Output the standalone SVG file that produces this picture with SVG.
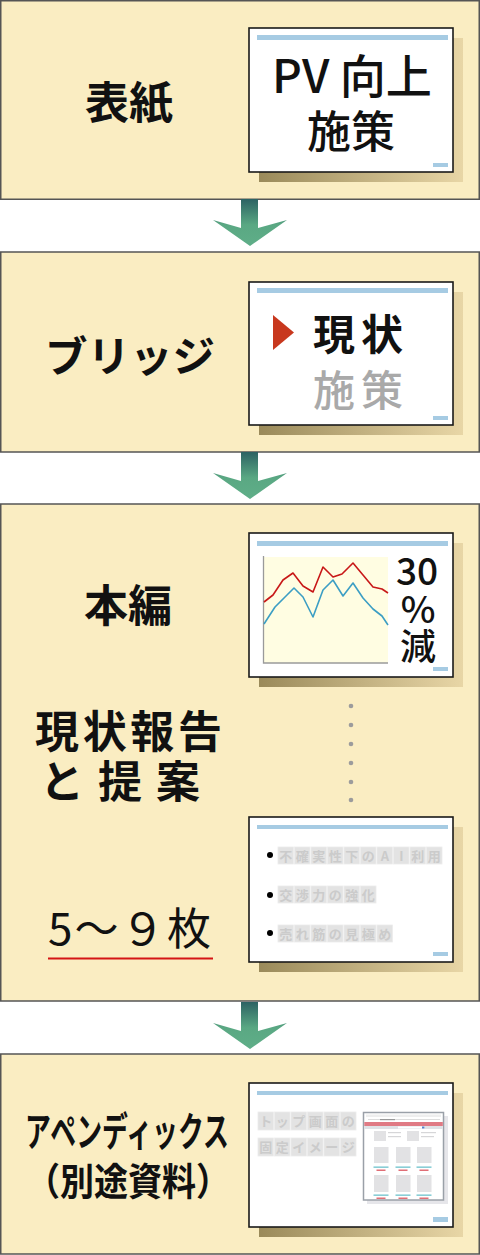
<svg xmlns="http://www.w3.org/2000/svg" width="480" height="1255" viewBox="0 0 480 1255">
<defs>
<linearGradient id="arrowGrad" x1="0" y1="0" x2="0" y2="1">
<stop offset="0" stop-color="#2c6263"/>
<stop offset="0.55" stop-color="#5aa883"/>
<stop offset="1" stop-color="#5fae88"/>
</linearGradient>
<linearGradient id="shadowGrad" x1="0" y1="0" x2="1" y2="0">
<stop offset="0" stop-color="#9a8a5a"/>
<stop offset="1" stop-color="#e8d6a6"/>
</linearGradient>
<path id="arrow" d="M241,199 L258,199 L258,228 L287,220 L250,246 L213,220 L241,228 Z" fill="url(#arrowGrad)"/>
</defs>
<style>
.panel{fill:#faedc2;stroke:#555;stroke-width:1.5}
.shadow{fill:url(#shadowGrad)}
.slide{fill:#fff;stroke:#1a1a1a;stroke-width:1.6}
.bar{fill:#a6cbe3}
.lbl{font-family:"Noto Sans CJK JP","Noto Sans",sans-serif;font-weight:bold;fill:#111}
.st{font-family:"Noto Sans CJK JP","Noto Sans",sans-serif;font-weight:500;fill:#111}
.ph{fill:#e3e3e3;stroke:#ececec;stroke-width:0.8}
.pht{font-family:"Noto Sans CJK JP",sans-serif;font-weight:bold;font-size:13px;fill:#cbcbcb;text-anchor:middle}
</style>

<g id="panel-cover">
<rect class="panel" x="0.75" y="0.75" width="478.5" height="198.5"/>
<text class="lbl" x="129" y="119" font-size="44" text-anchor="middle">表紙</text>
<rect class="shadow" x="259" y="38" width="204" height="144"/>
<rect class="slide" x="249" y="28" width="204" height="144"/>
<rect class="bar" x="257" y="35" width="191" height="5"/>
<rect class="bar" x="433" y="163" width="15" height="4"/>
<text class="st" font-size="46"><tspan x="272" y="93" textLength="160" lengthAdjust="spacingAndGlyphs">PV 向上</tspan><tspan x="307" y="148" font-size="44">施策</tspan></text>
</g>

<g id="panel-bridge">
<rect class="panel" x="0.75" y="252" width="478.5" height="200"/>
<text class="lbl" x="130" y="372" font-size="42" text-anchor="middle" textLength="170" lengthAdjust="spacingAndGlyphs">ブリッジ</text>
<rect class="shadow" x="259" y="292" width="204" height="143"/>
<rect class="slide" x="249" y="282" width="204" height="143"/>
<rect class="bar" x="257" y="288" width="191" height="5"/>
<rect class="bar" x="433" y="416" width="15" height="4"/>
<polygon points="273,315 294,332.5 273,350" fill="#c8381e"/>
<text class="lbl" font-size="42"><tspan x="313" y="350" textLength="90" lengthAdjust="spacing">現状</tspan><tspan x="313" y="406" textLength="90" lengthAdjust="spacing" font-weight="500" style="fill:#a9a9a9">施策</tspan></text>
</g>

<g id="panel-main">
<rect class="panel" x="0.75" y="504" width="478.5" height="497"/>
<text class="lbl" x="128" y="622" font-size="44" text-anchor="middle">本編</text>
<text class="lbl" font-size="44"><tspan x="35" y="748" textLength="187" lengthAdjust="spacing">現状報告</tspan><tspan x="40" y="798" textLength="160" lengthAdjust="spacing">と提案</tspan></text>
<text x="48" y="945" font-family="'Noto Sans CJK JP','Noto Sans',sans-serif" font-size="44" fill="#111" textLength="163" lengthAdjust="spacing">5〜９枚</text>
<line x1="48" y1="958.5" x2="213" y2="958.5" stroke="#d41414" stroke-width="2.2"/>

<rect class="shadow" x="259" y="543" width="204" height="144"/>
<rect class="slide" x="249" y="533" width="204" height="144"/>
<rect class="bar" x="257" y="541" width="191" height="5"/>
<rect class="bar" x="433" y="667" width="15" height="4"/>
<rect x="263" y="557" width="125" height="106" fill="#fffde2"/>
<polyline points="263.5,556 263.5,663 388,663" fill="none" stroke="#9a9a9a" stroke-width="1.3"/>
<polyline points="264,602 273,595 283,580 293,573 303,586 313,592 323,567 333,577 342,574 353,563 363,575 373,587 382,589 388,593" fill="none" stroke="#c81818" stroke-width="1.6" stroke-linejoin="round"/>
<polyline points="264,624 275,607 285,597 294,588 303,597 313,617 323,590 333,580 343,596 353,583 363,598 373,609 382,616 388,625" fill="none" stroke="#3c9ec4" stroke-width="1.6" stroke-linejoin="round"/>
<text class="st" font-size="37" text-anchor="middle"><tspan x="417" y="585">30</tspan><tspan x="418" y="623">%</tspan><tspan x="418" y="660" font-size="36">減</tspan></text>

<g fill="#9c9c9c">
<circle cx="351" cy="706" r="2.3"/>
<circle cx="351" cy="725" r="2.3"/>
<circle cx="351" cy="744" r="2.3"/>
<circle cx="351" cy="763" r="2.3"/>
<circle cx="351" cy="782" r="2.3"/>
<circle cx="351" cy="800" r="2.3"/>
</g>

<rect class="shadow" x="259" y="827" width="204" height="145"/>
<rect class="slide" x="249" y="817" width="204" height="145"/>
<rect class="bar" x="257" y="825" width="191" height="4"/>
<rect class="bar" x="433" y="952" width="15" height="4"/>
<circle cx="270" cy="855" r="3" fill="#000"/>
<circle cx="270" cy="895" r="3" fill="#000"/>
<circle cx="270" cy="933" r="3" fill="#000"/>
<g>
<rect class="ph" x="278" y="847" width="15.5" height="17"/><text class="pht" x="285.8" y="860.5">不</text>
<rect class="ph" x="294.5" y="847" width="15.5" height="17"/><text class="pht" x="302.3" y="860.5">確</text>
<rect class="ph" x="311" y="847" width="15.5" height="17"/><text class="pht" x="318.8" y="860.5">実</text>
<rect class="ph" x="327.5" y="847" width="15.5" height="17"/><text class="pht" x="335.3" y="860.5">性</text>
<rect class="ph" x="344" y="847" width="15.5" height="17"/><text class="pht" x="351.8" y="860.5">下</text>
<rect class="ph" x="360.5" y="847" width="15.5" height="17"/><text class="pht" x="368.3" y="860.5">の</text>
<rect class="ph" x="377" y="847" width="15.5" height="17"/><text class="pht" x="384.8" y="860.5">A</text>
<rect class="ph" x="393.5" y="847" width="15.5" height="17"/><text class="pht" x="401.3" y="860.5">I</text>
<rect class="ph" x="410" y="847" width="15.5" height="17"/><text class="pht" x="417.8" y="860.5">利</text>
<rect class="ph" x="426.5" y="847" width="15.5" height="17"/><text class="pht" x="434.3" y="860.5">用</text>

<rect class="ph" x="278" y="886" width="15.5" height="17"/><text class="pht" x="285.8" y="899.5">交</text>
<rect class="ph" x="294.5" y="886" width="15.5" height="17"/><text class="pht" x="302.3" y="899.5">渉</text>
<rect class="ph" x="311" y="886" width="15.5" height="17"/><text class="pht" x="318.8" y="899.5">力</text>
<rect class="ph" x="327.5" y="886" width="15.5" height="17"/><text class="pht" x="335.3" y="899.5">の</text>
<rect class="ph" x="344" y="886" width="15.5" height="17"/><text class="pht" x="351.8" y="899.5">強</text>
<rect class="ph" x="360.5" y="886" width="15.5" height="17"/><text class="pht" x="368.3" y="899.5">化</text>

<rect class="ph" x="278" y="925" width="15.5" height="17"/><text class="pht" x="285.8" y="938.5">売</text>
<rect class="ph" x="294.5" y="925" width="15.5" height="17"/><text class="pht" x="302.3" y="938.5">れ</text>
<rect class="ph" x="311" y="925" width="15.5" height="17"/><text class="pht" x="318.8" y="938.5">筋</text>
<rect class="ph" x="327.5" y="925" width="15.5" height="17"/><text class="pht" x="335.3" y="938.5">の</text>
<rect class="ph" x="344" y="925" width="15.5" height="17"/><text class="pht" x="351.8" y="938.5">見</text>
<rect class="ph" x="360.5" y="925" width="15.5" height="17"/><text class="pht" x="368.3" y="938.5">極</text>
<rect class="ph" x="377" y="925" width="15.5" height="17"/><text class="pht" x="384.8" y="938.5">め</text>
</g>
</g>

<g id="panel-appendix">
<rect class="panel" x="0.75" y="1054" width="478.5" height="200"/>
<text class="lbl" x="0" y="0" font-size="40" transform="translate(25,1146) scale(0.647,1)">アペンディックス</text>
<text class="lbl" x="0" y="0" font-size="38" transform="translate(26,1195) scale(0.895,1)">（別途資料）</text>
<rect class="shadow" x="259" y="1093" width="204" height="144"/>
<rect class="slide" x="249" y="1083" width="204" height="144"/>
<rect class="bar" x="257" y="1091" width="191" height="4"/>
<rect class="bar" x="433" y="1217" width="15" height="5"/>
<g>
<rect class="ph" x="258" y="1112" width="15.5" height="18"/><text class="pht" x="265.8" y="1125.5">ト</text>
<rect class="ph" x="274.5" y="1112" width="15.5" height="18"/><text class="pht" x="282.3" y="1125.5">ッ</text>
<rect class="ph" x="291" y="1112" width="15.5" height="18"/><text class="pht" x="298.8" y="1125.5">プ</text>
<rect class="ph" x="307.5" y="1112" width="15.5" height="18"/><text class="pht" x="315.3" y="1125.5">画</text>
<rect class="ph" x="324" y="1112" width="15.5" height="18"/><text class="pht" x="331.8" y="1125.5">面</text>
<rect class="ph" x="340.5" y="1112" width="15.5" height="18"/><text class="pht" x="348.3" y="1125.5">の</text>
<rect class="ph" x="258" y="1138" width="15.5" height="18"/><text class="pht" x="265.8" y="1151.5">固</text>
<rect class="ph" x="274.5" y="1138" width="15.5" height="18"/><text class="pht" x="282.3" y="1151.5">定</text>
<rect class="ph" x="291" y="1138" width="15.5" height="18"/><text class="pht" x="298.8" y="1151.5">イ</text>
<rect class="ph" x="307.5" y="1138" width="15.5" height="18"/><text class="pht" x="315.3" y="1151.5">メ</text>
<rect class="ph" x="324" y="1138" width="15.5" height="18"/><text class="pht" x="331.8" y="1151.5">ー</text>
<rect class="ph" x="340.5" y="1138" width="15.5" height="18"/><text class="pht" x="348.3" y="1151.5">ジ</text>
</g>
<rect x="367" y="1116" width="81" height="88" fill="#e6e6ea"/>
<rect x="363.5" y="1112.5" width="80" height="87.5" fill="#fff" stroke="#9aa0a8" stroke-width="1.5"/>
<rect x="366" y="1114.5" width="75" height="2.5" fill="#eeeeee"/>
<line x1="368" y1="1119.5" x2="440" y2="1119.5" stroke="#dddddd" stroke-width="1"/>
<rect x="380" y="1119" width="15" height="1.2" fill="#999"/>
<rect x="364.3" y="1122" width="78.5" height="4" fill="#e07a84"/>
<rect x="364.3" y="1126" width="78.5" height="3" fill="#dfe2e6"/>
<rect x="398" y="1126.5" width="27" height="2" fill="#fff"/>
<rect x="422" y="1126.5" width="2.5" height="2" fill="#5a82c8"/>
<rect x="374" y="1131" width="12" height="10" fill="#e2e2e4"/>
<rect x="388" y="1132" width="13" height="1.2" fill="#d6d6d8"/>
<rect x="388" y="1136" width="13" height="1.2" fill="#d6d6d8"/>
<rect x="407" y="1131" width="12" height="10" fill="#e2e2e4"/>
<rect x="421" y="1132" width="15" height="1.2" fill="#d6d6d8"/>
<rect x="421" y="1136" width="13" height="1.2" fill="#d6d6d8"/>
<g fill="#e2e2e4">
<rect x="374" y="1147" width="14.5" height="16"/>
<rect x="396" y="1147" width="14.5" height="16"/>
<rect x="417" y="1147" width="14.5" height="16"/>
<rect x="374" y="1175" width="14.5" height="17"/>
<rect x="396" y="1175" width="14.5" height="17"/>
<rect x="417" y="1175" width="14.5" height="17"/>
</g>
<g fill="#6ec2cc">
<rect x="373.5" y="1166.5" width="15" height="1.3"/>
<rect x="395.5" y="1166.5" width="15" height="1.3"/>
<rect x="416.5" y="1166.5" width="15" height="1.3"/>
<rect x="373.5" y="1194.5" width="15" height="1.3"/>
<rect x="395.5" y="1194.5" width="15" height="1.3"/>
<rect x="416.5" y="1194.5" width="15" height="1.3"/>
</g>
<g fill="#e06e76">
<rect x="376.5" y="1169.5" width="9" height="1.5"/>
<rect x="398.5" y="1169.5" width="9" height="1.5"/>
<rect x="419.5" y="1169.5" width="9" height="1.5"/>
<rect x="376.5" y="1197.5" width="9" height="1.5"/>
<rect x="398.5" y="1197.5" width="9" height="1.5"/>
<rect x="419.5" y="1197.5" width="9" height="1.5"/>
</g>
</g>

<g id="connectors">
<use href="#arrow"/>
<use href="#arrow" transform="translate(0,253)"/>
<use href="#arrow" transform="translate(0,803)"/>
</g>
</svg>
